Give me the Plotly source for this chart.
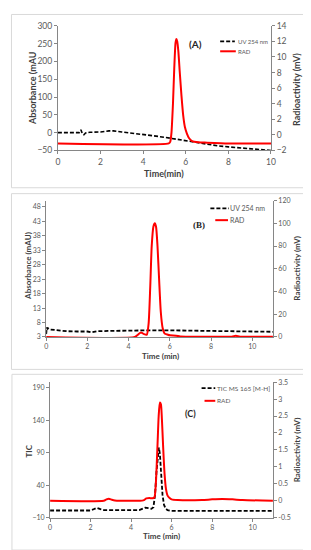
import plotly.graph_objects as go

# ---------------- data ----------------
# Panel A
a_uv_time = [0, 0.5, 1.0, 1.08, 1.15, 1.22, 1.3, 1.5, 2.0, 2.4, 2.6, 3.0, 3.5, 4.0, 4.5, 5.0, 5.5, 6.0, 6.5, 7.0, 7.5, 8.0, 8.5, 9.0, 9.5, 10.0]
a_uv_abs = [0, 0, 0, 8, -3, -6, -1, 1, 2, 5, 5, 2, -1, -5, -9, -13, -18, -24, -29, -33, -37, -40, -43, -46, -48, -50]
a_rad_time = [0, 5.2, 5.27, 5.33, 5.4, 5.46, 5.52, 5.56, 5.6, 5.65, 5.72, 5.8, 5.88, 5.96, 6.05, 6.15, 6.3, 6.6, 7.0, 8.0, 10.0]
a_rad_mv = [-1.1, -1.1, -0.9, 0.3, 4.0, 8.5, 11.8, 12.3, 12.0, 10.8, 8.0, 5.0, 2.5, 1.0, 0.2, -0.4, -0.8, -0.95, -1.0, -1.1, -1.1]

# Panel B
b_uv_time = [0, 0.03, 0.06, 0.1, 0.2, 0.5, 1.0, 1.5, 2.0, 2.2, 2.5, 3.0, 3.5, 4.0, 5.0, 6.0, 7.0, 8.0, 9.0, 10.0, 11.0]
b_uv_abs = [4.0, 6.3, 5.8, 6.0, 5.6, 5.3, 5.0, 4.9, 4.9, 4.6, 5.0, 5.1, 5.2, 5.2, 5.3, 5.3, 5.2, 5.1, 5.0, 4.9, 4.8]
b_rad_time = [0, 4.3, 4.45, 4.6, 4.75, 4.88, 4.97, 5.05, 5.12, 5.2, 5.27, 5.33, 5.4, 5.48, 5.56, 5.65, 5.75, 5.9, 6.0, 6.3, 6.5, 7.0, 9.0, 9.2, 9.4, 11.0]
b_rad_mv = [0, 0, 2, 4, 2.5, 2, 12, 45, 80, 97, 100, 97, 80, 50, 22, 8, 3, 2, 1.5, 1.2, 0.5, 0.3, 0.3, 1.0, 0.3, 0.3]

# Panel C
c_tic_time = [0, 2.0, 2.15, 2.3, 2.45, 2.6, 4.4, 4.55, 4.7, 4.85, 5.0, 5.1, 5.18, 5.25, 5.32, 5.37, 5.42, 5.48, 5.55, 5.62, 5.7, 5.8, 5.95, 6.2, 8.0, 11.0]
c_tic_val = [1, 1, 3, 5, 3.5, 1.5, 1.5, 3, 5.5, 4.5, 3.5, 6, 25, 60, 90, 98, 88, 55, 25, 10, 4, 1.5, 0.5, 0.3, 0.3, 0.3]
c_rad_time = [0, 2.65, 2.78, 2.9, 3.05, 3.2, 4.6, 4.75, 4.9, 5.05, 5.15, 5.22, 5.3, 5.36, 5.42, 5.47, 5.52, 5.58, 5.65, 5.72, 5.8, 5.9, 6.0, 6.3, 7.5, 8.0, 8.5, 9.0, 9.5, 11.0]
c_rad_mv = [0.0, 0.0, 0.04, 0.06, 0.03, 0.01, 0.01, 0.07, 0.08, 0.07, 0.1, 0.5, 1.6, 2.5, 2.9, 2.85, 2.4, 1.6, 0.8, 0.35, 0.15, 0.08, 0.04, 0.02, 0.02, 0.04, 0.05, 0.04, 0.02, 0.0]

# tick labels
a_x_ticks = [0, 2, 4, 6, 8, 10]
a_left_ticks = [-50, 0, 50, 100, 150, 200, 250, 300]
a_right_ticks = [-2, 0, 2, 4, 6, 8, 10, 12, 14]
b_x_ticks = [0, 2, 4, 6, 8, 10]
b_left_ticks = [3, 8, 13, 18, 23, 28, 33, 38, 43, 48]
b_right_ticks = [0, 20, 40, 60, 80, 100, 120]
c_x_ticks = [0, 2, 4, 6, 8, 10]
c_left_ticks = [-10, 40, 90, 140, 190]
c_right_ticks = [-0.5, 0, 0.5, 1, 1.5, 2, 2.5, 3, 3.5]
c_right_labels = ["-0.5", "0", "0.5", "1", "1.5", "2", "2.5", "3", "3.5"]

# text
a_titles = dict(x="Time(min)", left="Absorbance (mAU", right="Radioactivity (mV)", tag="(A)")
b_titles = dict(x="Time (min)", left="Absorbance (mAU)", right="Radioactivity (mV)", tag="(B)")
c_titles = dict(x="Time (min)", left="TIC", right="Radioactivity (mV)", tag="(C)")
a_names = ["UV 254 nm", "RAD"]
b_names = ["UV 254 nm", "RAD"]
c_names = ["TIC MS 165 [M-H]", "RAD"]

W, H = 311, 550
FONT = "Lato, Liberation Sans, Arial, sans-serif"
TICKC = "#595959"
TITLEC = "#404040"
AXC = "#868686"
DASH = "4px,2px"


def px(x):
    return x / W


def py(y):
    return 1 - y / H


fig = go.Figure()

# Panel A
fig.add_trace(go.Scatter(x=a_uv_time, y=a_uv_abs, mode="lines", name=a_names[0],
                         line=dict(color="black", width=1.6, dash=DASH), xaxis="x", yaxis="y"))
fig.add_trace(go.Scatter(x=a_rad_time, y=a_rad_mv, mode="lines", name=a_names[1],
                         line=dict(color="#ff0000", width=2, shape="spline", smoothing=0.6),
                         xaxis="x", yaxis="y2"))
# Panel B
fig.add_trace(go.Scatter(x=b_uv_time, y=b_uv_abs, mode="lines", name=b_names[0],
                         line=dict(color="black", width=1.8, dash=DASH), xaxis="x2", yaxis="y3"))
fig.add_trace(go.Scatter(x=b_rad_time, y=b_rad_mv, mode="lines", name=b_names[1],
                         line=dict(color="#ff0000", width=2, shape="spline", smoothing=0.6),
                         xaxis="x2", yaxis="y4"))
# Panel C
fig.add_trace(go.Scatter(x=c_tic_time, y=c_tic_val, mode="lines", name=c_names[0],
                         line=dict(color="black", width=1.8, dash=DASH), xaxis="x3", yaxis="y5"))
fig.add_trace(go.Scatter(x=c_rad_time, y=c_rad_mv, mode="lines", name=c_names[1],
                         line=dict(color="#ff0000", width=2, shape="spline", smoothing=0.6),
                         xaxis="x3", yaxis="y6"))


def xax(domain, anchor, rng, ticks, fs):
    return dict(domain=domain, anchor=anchor, range=rng, tickvals=ticks,
                ticks="outside", ticklen=3, tickcolor=AXC, showline=True, linecolor=AXC,
                linewidth=1, showgrid=False, zeroline=False,
                tickfont=dict(size=fs, color=TICKC, family=FONT))


def yax(domain, anchor, rng, ticks, fs, side="left", overlaying=None, labels=None):
    d = dict(domain=domain, anchor=anchor, range=rng, tickvals=ticks, side=side,
             ticks="outside", ticklen=3, tickcolor=AXC, showline=True, linecolor=AXC,
             linewidth=1, showgrid=False, zeroline=False,
             tickfont=dict(size=fs, color=TICKC, family=FONT))
    if overlaying:
        d["overlaying"] = overlaying
    if labels:
        d["ticktext"] = labels
    return d


A_dom_x = [px(49), px(267)]
A_dom_y = [py(140), py(13)]
B_dom_x = [px(37), px(269)]
B_dom_y = [py(330), py(191)]
C_dom_x = [px(41), px(269)]
C_dom_y = [py(514), py(376)]

annotations = []
shapes = [
    dict(type="rect", xref="paper", yref="paper", x0=px(1.5), x1=px(307), y0=py(178), y1=py(1.5),
         line=dict(color="#d9d9d9", width=1)),
    dict(type="rect", xref="paper", yref="paper", x0=px(1.5), x1=px(306), y0=py(363), y1=py(184),
         line=dict(color="#d9d9d9", width=1)),
    dict(type="rect", xref="paper", yref="paper", x0=px(2), x1=px(307), y0=py(547), y1=py(368),
         line=dict(color="#d9d9d9", width=1)),
]


def ann(text, x, y, fs, color, family=FONT, angle=0, xanchor="center"):
    annotations.append(dict(text=text, x=px(x), y=py(y), xref="paper", yref="paper", showarrow=False,
                            xanchor=xanchor, yanchor="middle", textangle=angle,
                            font=dict(size=fs, color=color, family=family)))


def titles(t, xpos, leftpos, rightpos, tagpos, fs, tagfs, tagfont=FONT):
    ann("<b>" + t["x"] + "</b>", xpos[0], xpos[1], fs, TITLEC)
    ann("<b>" + t["left"] + "</b>", leftpos[0], leftpos[1], fs, TITLEC, angle=-90)
    ann("<b>" + t["right"] + "</b>", rightpos[0], rightpos[1], fs, TITLEC, angle=-90)
    ann("<b>" + t["tag"] + "</b>", tagpos[0], tagpos[1], tagfs, "#262626", family=tagfont)


def legend(names, dash_seg, red_seg, text_x, ys, fs):
    shapes.append(dict(type="line", xref="paper", yref="paper", x0=px(dash_seg[0]), x1=px(dash_seg[1]),
                       y0=py(ys[0]), y1=py(ys[0]), line=dict(color="black", width=1.8, dash=DASH)))
    shapes.append(dict(type="line", xref="paper", yref="paper", x0=px(red_seg[0]), x1=px(red_seg[1]),
                       y0=py(ys[1]), y1=py(ys[1]), line=dict(color="#ff0000", width=2)))
    for n, yy in zip(names, ys):
        ann(n, text_x, yy, fs, TICKC, xanchor="left")


titles(a_titles, (158, 163), (23, 76), (293, 78), (190, 32), 9, 10)
titles(b_titles, (154, 349), (19, 258), (294, 260), (193, 216), 8, 9, "Liberation Serif, serif")
titles(c_titles, (155, 533), (19, 446), (294, 445), (185, 408), 8, 9)

legend(a_names, (215, 230), (215, 231), 231, (29, 39), 6)
legend(b_names, (205, 224), (210, 223), 223, (199, 211), 7)
legend(c_names, (196, 210), (199, 210), 210, (382, 395), 6.5)

layout = dict(
    width=W, height=H, margin=dict(l=0, r=0, t=0, b=0),
    paper_bgcolor="white", plot_bgcolor="white",
    font=dict(family=FONT, color=TICKC),
    showlegend=False,
    xaxis=xax(A_dom_x, "y", [0, 10], a_x_ticks, 8.5),
    yaxis=yax(A_dom_y, "x", [-50, 300], a_left_ticks, 8.5),
    yaxis2=yax(A_dom_y, "x", [-2, 14], a_right_ticks, 8.5, side="right", overlaying="y"),
    xaxis2=xax(B_dom_x, "y3", [0, 11], b_x_ticks, 7),
    yaxis3=yax(B_dom_y, "x2", [3, 50.2], b_left_ticks, 7),
    yaxis4=yax(B_dom_y, "x2", [0, 120], b_right_ticks, 7, side="right", overlaying="y3"),
    xaxis3=xax(C_dom_x, "y5", [0, 11], c_x_ticks, 7),
    yaxis5=yax(C_dom_y, "x3", [-10, 198.5], c_left_ticks, 7),
    yaxis6=yax(C_dom_y, "x3", [-0.5, 3.5], c_right_ticks, 7, side="right", overlaying="y5",
               labels=c_right_labels),
    shapes=shapes,
    annotations=annotations,
)
fig.update_layout(layout)

fig.write_html("out.html")
